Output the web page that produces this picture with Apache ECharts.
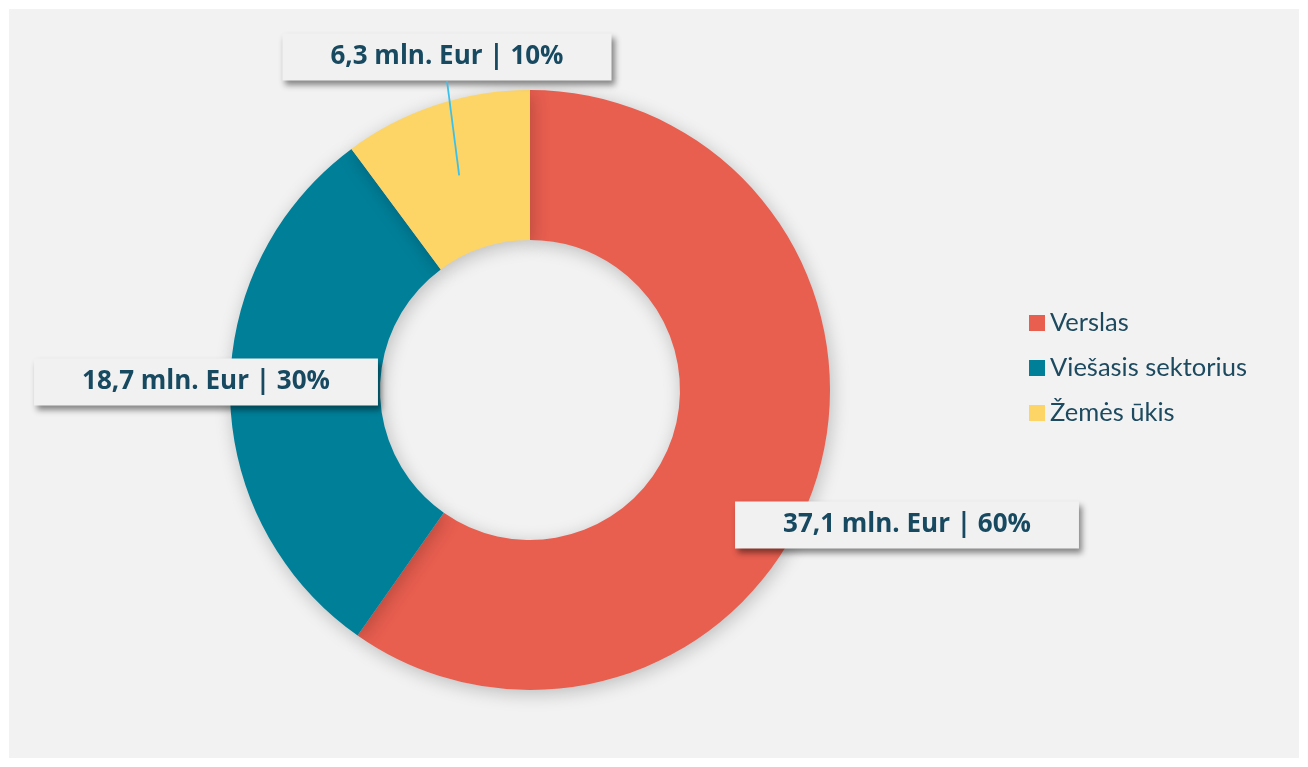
<!DOCTYPE html>
<html>
<head>
<meta charset="utf-8">
<script src="https://cdn.jsdelivr.net/npm/echarts@6/dist/echarts.min.js"></script>
<style>
  html, body { margin: 0; padding: 0; background: #ffffff; }
  #chart { position: absolute; left: 9px; top: 9px; width: 1290px; height: 749px; background: #f2f2f2; }
</style>
</head>
<body>
<div id="chart"></div>
<script>
const categories = ['Verslas', 'Viešasis sektorius', 'Žemės ūkis'];
const values = [37.1, 18.7, 6.3];
const valueLabels = ['37,1', '18,7', '6,3'];
const colors = ['#e85e4f', '#007f99', '#fdd466'];

const total = values.reduce((a, b) => a + b, 0);
const labelCenters = [[898, 516], [197, 373], [438, 48]];
const cx = 521, cy = 381;
const rInner = 150, rOuter = 300;

function midAngle(i) {
  let before = 0;
  for (let k = 0; k < i; k++) before += values[k];
  const frac = (before + values[i] / 2) / total;
  return (90 - 360 * frac) * Math.PI / 180;
}

// leader line for the smallest slice: from middle of the ring to the label box
const leaderIdx = 2;
const la = midAngle(leaderIdx);
const rMid = (rInner + rOuter) / 2 + 1;
const leaderStart = [cx + rMid * Math.cos(la), cy - rMid * Math.sin(la)];
const leaderEnd = [labelCenters[leaderIdx][0], labelCenters[leaderIdx][1] + 24];

const chart = echarts.init(document.getElementById('chart'), null, { renderer: 'canvas' });
chart.setOption({
  backgroundColor: '#f2f2f2',
  animation: false,
  color: colors,
  legend: {
    orient: 'vertical',
    left: 1015,
    top: 296,
    itemWidth: 16,
    itemHeight: 16,
    itemGap: 19,
    icon: 'rect',
    textStyle: { fontFamily: 'Lato', fontSize: 25.5, color: '#1d4a5f' },
    data: categories
  },
  graphic: [{
    type: 'line',
    z: 100,
    shape: { x1: leaderStart[0], y1: leaderStart[1], x2: leaderEnd[0], y2: leaderEnd[1] },
    style: { stroke: '#3cc0ea', lineWidth: 1.8 }
  }],
  series: [{
    type: 'pie',
    center: [cx, cy],
    radius: [rInner, rOuter],
    startAngle: 90,
    clockwise: true,
    avoidLabelOverlap: false,
    z: 2,
    itemStyle: { shadowBlur: 18, shadowColor: 'rgba(0,0,0,0.22)', shadowOffsetX: 2, shadowOffsetY: 4 },
    label: {
      show: true,
      position: 'outside',
      formatter: p => valueLabels[p.dataIndex] + ' mln. Eur | ' + Math.round(p.value / total * 100) + '%',
      fontFamily: 'Open Sans',
      fontWeight: 'bold',
      fontSize: 26,
      lineHeight: 28,
      color: '#174a60',
      backgroundColor: '#f1f1f1',
      padding: [9, 48, 10, 48],
      shadowColor: 'rgba(0,0,0,0.45)',
      shadowBlur: 6,
      shadowOffsetX: 3,
      shadowOffsetY: 4
    },
    labelLine: { show: false },
    labelLayout: function (params) {
      const c = labelCenters[params.dataIndex];
      return { x: c[0], y: c[1], align: 'center', verticalAlign: 'middle' };
    },
    data: categories.map((n, i) => ({ name: n, value: values[i] }))
  }]
});
</script>
</body>
</html>
